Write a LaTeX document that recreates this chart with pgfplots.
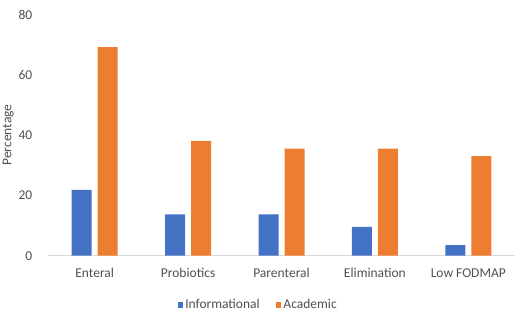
\documentclass[border=0pt]{standalone}
\usepackage{pgfplots}
\pgfplotsset{compat=1.18}
\usepackage{fontspec}
\setmainfont{Carlito}
\definecolor{xlblue}{HTML}{4472C4}
\definecolor{xlorange}{HTML}{ED7D31}
\definecolor{txtgray}{HTML}{505050}
\newcommand{\lblfont}{\fontsize{13.5}{15}\selectfont}
\begin{document}
\begin{tikzpicture}
\begin{axis}[
  name=ax,
  scale only axis,
  width=467pt, height=241.2pt,
  ybar=6pt, bar width=20pt,
  xmin=-0.5, xmax=4.5,
  ymin=0, ymax=80,
  ytick={0,20,40,60,80},
  xtick={0,1,2,3,4},
  xticklabels={Enteral,Probiotics,Parenteral,Elimination,Low FODMAP},
  axis x line*=bottom,
  axis y line=none,
  x axis line style={draw=black!15, line width=0.8pt},
  xtick style={draw=none},
  ytick style={draw=none},
  tick label style={font=\lblfont, text=txtgray},
  /pgf/number format/assume math mode=true,
  xticklabel style={yshift=-5pt},
  clip=false,
  legend style={at={(axis description cs:0.45,-0.204)}, anchor=center, draw=none,
    font=\lblfont, text=txtgray, legend columns=2,
    /tikz/every even column/.append style={column sep=14pt}},
  legend image code/.code={\fill[#1] (0cm,-0.1cm) rectangle (0.2cm,0.1cm);},
]
\addplot[fill=xlblue, draw=none] coordinates {(0,21.8) (1,13.7) (2,13.7) (3,9.6) (4,3.5)};
\addplot[fill=xlorange, draw=none] coordinates {(0,69.2) (1,38.1) (2,35.5) (3,35.5) (4,33)};
\legend{Informational, Academic}
\foreach \v in {0,20,40,60,80} {
  \edef\temp{\noexpand\node[anchor=east, font=\noexpand\lblfont, text=txtgray] at (axis description cs:-0.026,\v/80) {\v};}
  \temp
}
\node[rotate=90, font=\lblfont, text=txtgray] at (axis description cs:-0.085,0.5) {Percentage};
\end{axis}
\pgfresetboundingbox
\path ([shift={(-48pt,-59.3pt)}]ax.south west) rectangle ([shift={(5pt,14.5pt)}]ax.north east);
\end{tikzpicture}
\end{document}
